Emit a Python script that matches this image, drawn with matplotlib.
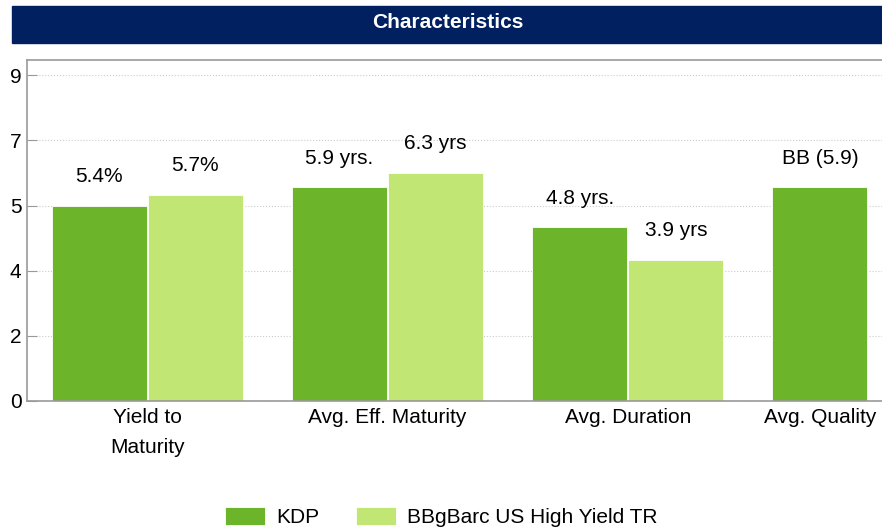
import numpy as np
import matplotlib.pyplot as plt
from matplotlib.patches import Rectangle
from matplotlib.ticker import FuncFormatter

plt.rcParams['font.family'] = ['Liberation Sans', 'DejaVu Sans']

# Fund characteristics vs. benchmark
categories = ['Yield to\nMaturity', 'Avg. Eff. Maturity', 'Avg. Duration', 'Avg. Quality']
kdp_values = [5.4, 5.9, 4.8, 5.9]
kdp_labels = ['5.4%', '5.9 yrs.', '4.8 yrs.', 'BB (5.9)']
bench_values = [5.7, 6.3, 3.9]
bench_labels = ['5.7%', '6.3 yrs', '3.9 yrs']
series_names = ['KDP', 'BBgBarc US High Yield TR']

dark_green = '#6cb52b'
light_green = '#c2e674'
navy = '#00205f'
fs = 15

fig = plt.figure(figsize=(8.82, 5.31), dpi=100)

# title banner
fig.patches.append(Rectangle((12 / 882, 1 - 43 / 531), 1 - 12 / 882, 37 / 531,
                             transform=fig.transFigure, color=navy, zorder=0))
fig.text(0.508, 1 - 23 / 531, 'Characteristics', color='white', fontsize=15,
         fontweight='bold', ha='center', va='center')

ax = fig.add_axes([27 / 882, 130 / 531, 1 - 27 / 882, 341 / 531])

x = np.arange(len(categories))
w = 0.395
off = 0.2
kdp_bars = ax.bar(x - off, kdp_values, w, color=dark_green, edgecolor='white',
                  linewidth=0.6, zorder=2, label=series_names[0])
xb = x[:len(bench_values)]
bench_bars = ax.bar(xb + off, bench_values, w, color=light_green, edgecolor='white',
                    linewidth=0.6, zorder=2, label=series_names[1])

for bars, labels in [(kdp_bars, kdp_labels), (bench_bars, bench_labels)]:
    for b, lab in zip(bars, labels):
        ax.annotate(lab, (b.get_x() + b.get_width() / 2, b.get_height()),
                    xytext=(0, 21), textcoords='offset points',
                    ha='center', va='center', fontsize=fs)

ax.set_xlim(-0.5, 3 + 14 / 240)
ax.set_ylim(0, 9.42)
ax.set_yticks(np.arange(0, 9.01, 1.8))
ax.yaxis.set_major_formatter(FuncFormatter(lambda v, p: f'{v:.0f}'))
ax.tick_params(axis='y', direction='in', length=7, color='#999999', labelsize=fs, pad=4)

# last category only has the fund bar, so its label sits under that bar
tick_pos = list(x[:3]) + [x[3] - off]
ax.set_xticks(tick_pos)
ax.set_xticklabels(categories, fontsize=fs, linespacing=1.75)
ax.tick_params(axis='x', length=0, pad=5)

ax.grid(axis='y', linestyle=':', color='#cccccc', linewidth=0.8, zorder=0)
ax.spines['right'].set_visible(False)
for s in ['left', 'top', 'bottom']:
    ax.spines[s].set_color('#999999')
    ax.spines[s].set_linewidth(1.2)

fig.legend(loc='center', bbox_to_anchor=(0.5, 14 / 531), ncol=2, frameon=False,
           fontsize=fs, handlelength=1.92, handleheight=0.96, columnspacing=1.75,
           handletextpad=0.55)

fig.savefig('out.png', dpi=100)
